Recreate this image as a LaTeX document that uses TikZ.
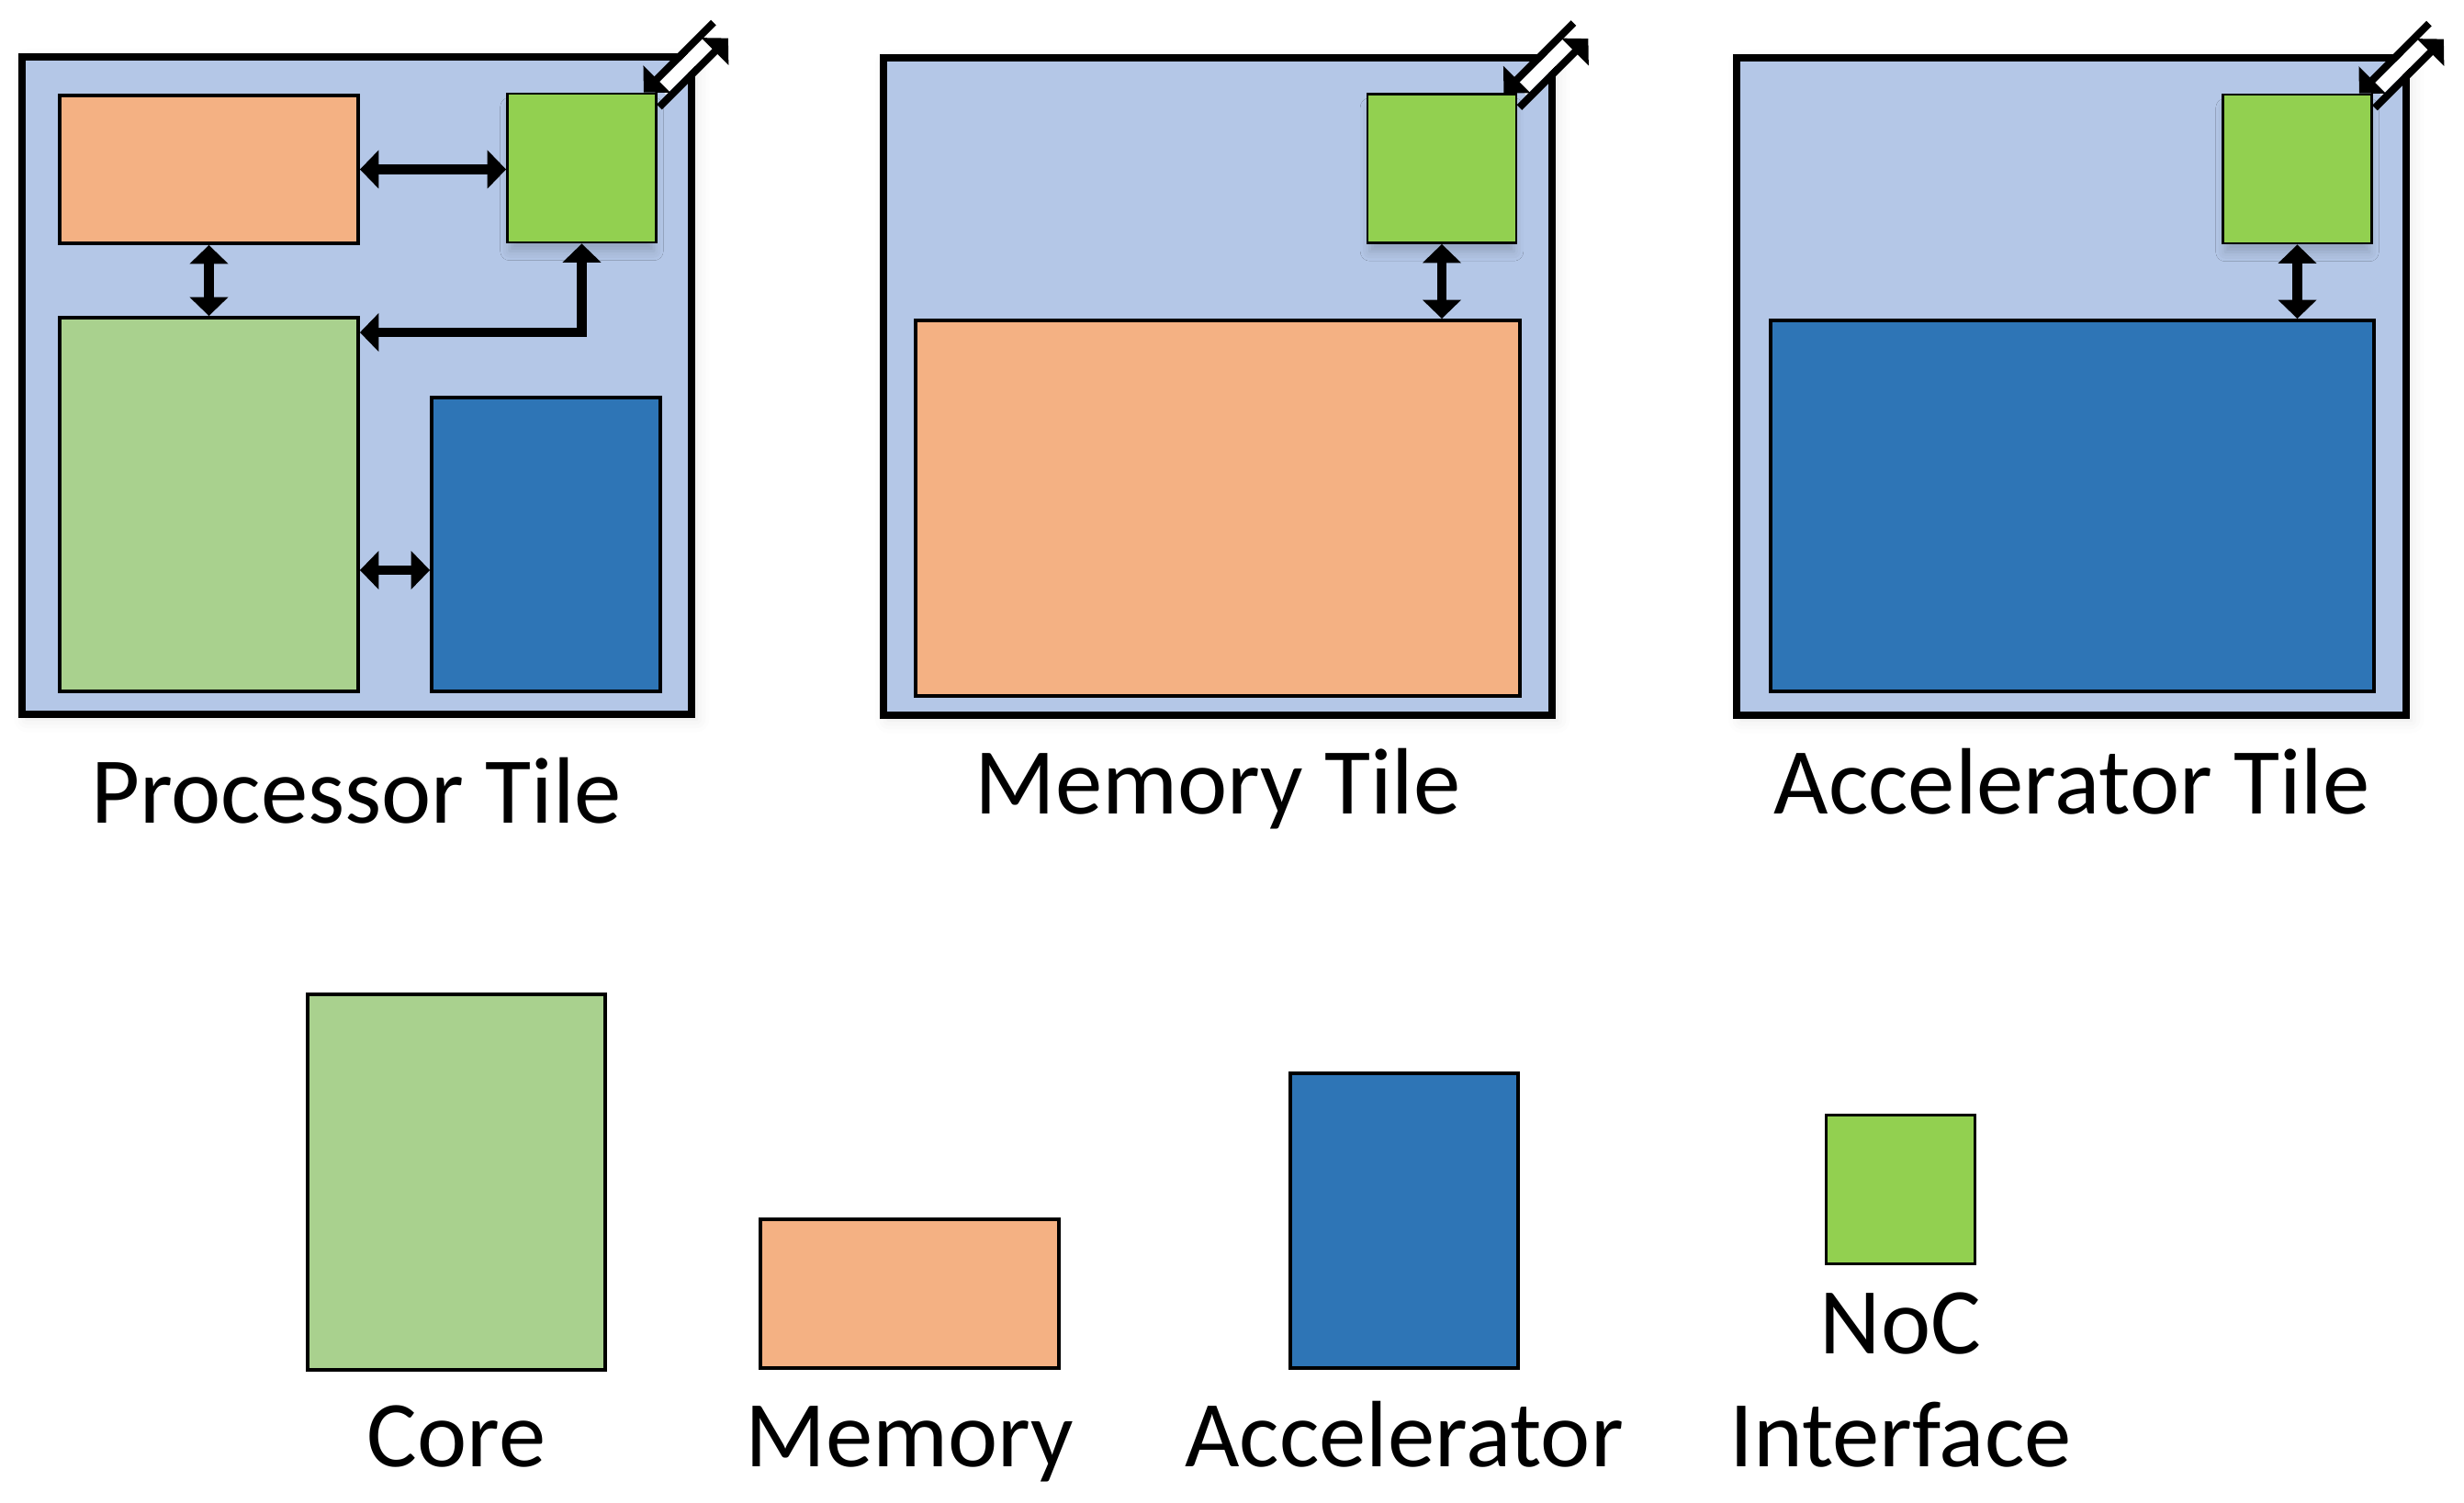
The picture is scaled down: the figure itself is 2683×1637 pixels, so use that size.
\documentclass[tikz,border=0pt]{standalone}
\usepackage{fontspec}
\setmainfont{Carlito}
\usetikzlibrary{arrows.meta,positioning,calc,shadows.blur}

\definecolor{tilebg}{HTML}{B4C7E7}
\definecolor{memcol}{HTML}{F4B183}
\definecolor{corecol}{HTML}{A9D18E}
\definecolor{acccol}{HTML}{2E75B6}
\definecolor{noccol}{HTML}{92D050}

\tikzset{
  bigtri/.tip={Triangle[width=11.6pt,length=5.8pt]},
  wh/.style 2 args={minimum width=#1*0.01cm, minimum height=#2*0.01cm},
  blk/.style={draw, rectangle, inner sep=0pt, line width=1.1pt},
  tilebox/.style={blk, fill=tilebg, line width=2.1pt,
    blur shadow={shadow xshift=1.5pt, shadow yshift=-1.5pt, shadow blur radius=4pt,
      shadow opacity=10}},
  membox/.style={blk, fill=memcol},
  corebox/.style={blk, fill=corecol},
  accbox/.style={blk, fill=acccol},
  nocbox/.style={blk, fill=noccol, line width=0.8pt, wh={162}{162}},
  nocshadow/.style={blur shadow={shadow xshift=0pt, shadow yshift=-3.5pt,
      shadow blur radius=3pt, shadow opacity=18, shadow scale=0.97}},
  link/.style={bigtri-bigtri, line width=2.9pt},
  port/.style={-bigtri, line width=2.3pt},
  lbl/.style={font=\fontsize{29.2}{35}\selectfont, inner sep=0pt, anchor=base},
}

% in/out link of a NoC interface, at its top right corner
\newcommand{\nocport}[1]{%
  \draw[white, line width=4.3pt] ($(#1.north east)+(4,-3)$) -- ($(#1.north east)+(61,-59)$);
  \coordinate (#1in) at ($(#1.north east)+(61,-76)$);
  \coordinate (#1out) at ($(#1.north east)+(77,-59)$);
  \draw[port] (#1in) -- ($(#1.north east)+(-15,0)$);
  \draw[port] ($(#1.north east)+(2,16)$) -- (#1out);
}

\begin{document}
\begin{tikzpicture}[x=0.01cm, y=-0.01cm]
    \useasboundingbox (0,0) rectangle (2683,1637);

    % Processor tile
    \node[tilebox, wh={729}{716}] (ptile) at (388.5,420) {};
    \node[membox, wh={325}{161}] (pmem) at (227.5,184.5) {};
    \node[nocbox, nocshadow] (pnoc) at (633.5,183) {};
    \node[corebox, wh={325}{407}] (pcore) at (227.5,549.5) {};
    \node[accbox, wh={249}{320}] (pacc) at (594.5,593) {};

    \draw[link] (pmem.east) -- (pnoc.west |- pmem.east);
    \draw[link] (pmem) -- (pcore);
    \draw[link] (pnoc) |- ($(pcore.north east)+(0,18)$);
    \coordinate (pa) at ($(pacc.west)+(0,28)$);
    \draw[link] (pcore.east |- pa) -- (pa);
    \nocport{pnoc}

    % Memory tile
    \node[tilebox, wh={728}{716}] (mtile) at (1326,421) {};
    \node[nocbox, nocshadow] (mnoc) at (1570,183.5) {};
    \node[membox, wh={658}{409}] (mmem) at (1326,553.5) {};
    \draw[link] (mnoc.south) -- (mnoc.south |- mmem.north);
    \nocport{mnoc}

    % Accelerator tile
    \node[tilebox, wh={729}{716}] (atile) at (2255.5,421) {};
    \node[nocbox, nocshadow] (anoc) at (2501.5,184) {};
    \node[accbox, wh={657}{404}] (aacc) at (2256.5,551) {};
    \draw[link] (anoc.south) -- (anoc.south |- aacc.north);
    \nocport{anoc}

    \node[lbl] (ptext) at (388,897) {Processor Tile};
    \node[lbl] (mtext) at (1326,887) {Memory Tile};
    \node[lbl] (atext) at (2256,887) {Accelerator Tile};

    % Legend
    \node[corebox, wh={324}{409}] (lcore) at (497,1287.5) {};
    \node[membox, wh={325}{162}] (lmem) at (990.5,1409) {};
    \node[accbox, wh={248}{321}] (lacc) at (1529,1329.5) {};
    \node[nocbox] (lnoc) at (2069.5,1295.5) {};

    \node[lbl] (lcoretext) at (497,1598) {Core};
    \node[lbl] (lmemtext) at (990.5,1598) {Memory};
    \node[lbl] (lacctext) at (1529,1598) {Accelerator};
    \node[lbl] (lnoctext) at (2069.5,1475) {NoC};
    \node[lbl] (lnoctext2) at (2069.5,1597) {Interface};
\end{tikzpicture}
\end{document}
